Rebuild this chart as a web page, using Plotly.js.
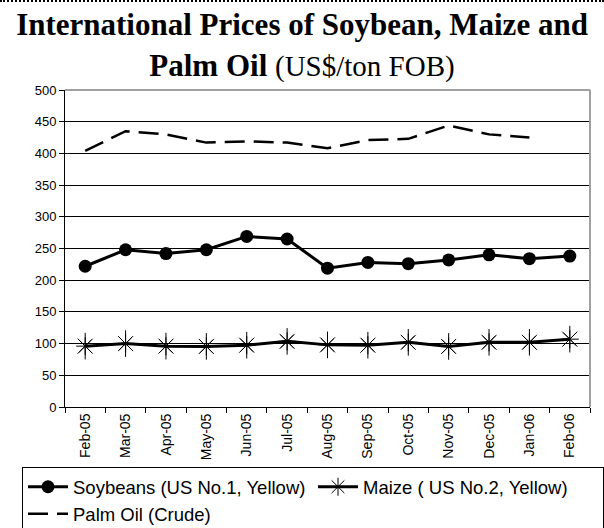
<!DOCTYPE html>
<html>
<head>
<meta charset="utf-8">
<script src="https://cdn.plot.ly/plotly-3.0.1.min.js"></script>
<style>
html,body{margin:0;padding:0;background:#fff;}
#wrap{position:relative;width:604px;height:528px;}
#chart{width:604px;height:528px;}
#topline{position:absolute;left:0;top:0;width:604px;height:0;border-top:2px dotted #000;}
</style>
</head>
<body>
<div id="wrap"><div id="chart"></div><div id="topline"></div></div>
<script>
const months = ["Feb-05","Mar-05","Apr-05","May-05","Jun-05","Jul-05","Aug-05","Sep-05","Oct-05","Nov-05","Dec-05","Jan-06","Feb-06"];
const soybeans = [222, 248, 242, 248, 269, 265, 219, 228, 226, 232, 240, 234, 238];
const maize = [96, 100, 96, 95.5, 97.5, 103.5, 98, 97.5, 102, 95.5, 102, 102, 107];
const palmOil = [404, 435, 430, 417, 419, 417, 408, 421, 423, 444, 430, 425, null];

const traces = [
  {x: months, y: soybeans, name: "Soybeans (US No.1, Yellow)", type: "scatter", mode: "lines+markers",
   line: {color: "#000", width: 3}, marker: {symbol: "circle", size: 13, color: "#000"}},
  {x: months, y: maize, name: "Maize ( US No.2, Yellow)", type: "scatter", mode: "lines+markers",
   line: {color: "#000", width: 3}, marker: {symbol: "asterisk-open", size: 15, color: "#000", line: {width: 1, color: "#000"}}},
  {x: months, y: maize, name: "Maize", type: "scatter", mode: "markers", showlegend: false,
   marker: {symbol: "x-thin-open", size: 15, color: "#000", line: {width: 1, color: "#000"}}},
  {x: months, y: maize, name: "Maize", type: "scatter", mode: "markers", showlegend: false,
   marker: {symbol: "line-ns-open", size: 19, color: "#000", line: {width: 1, color: "#000"}}},
  {x: months, y: palmOil, name: "Palm Oil (Crude)", type: "scatter", mode: "lines",
   line: {color: "#000", width: 2.5, dash: "20px,9px"}, connectgaps: false}
];

const layout = {
  width: 604, height: 528,
  margin: {l: 65, r: 14, t: 90, b: 121, autoexpand: false},
  paper_bgcolor: "#fff", plot_bgcolor: "#fff",
  font: {family: "Arial, Liberation Sans, sans-serif", size: 13, color: "#000"},
  title: {
    text: "<b>International Prices of Soybean, Maize and<br>Palm Oil</b> <span style='font-size:29px'>(US$/ton FOB)</span>",
    font: {family: "Liberation Serif, Times New Roman, serif", size: 31, color: "#000"},
    x: 0.5, xanchor: "center", xref: "container", y: 0.933, yanchor: "top", yref: "container"
  },
  xaxis: {
    type: "category", tickson: "boundaries", ticks: "outside", ticklen: 5, tickcolor: "#000",
    tickangle: -90, showline: true, linecolor: "#000", linewidth: 1, showgrid: false,
    mirror: false, tickfont: {size: 14}, range: [-0.5, 12.5], fixedrange: true, automargin: false
  },
  yaxis: {
    range: [0, 500], dtick: 50, ticks: "outside", ticklen: 5, tickcolor: "#000",
    showline: true, linecolor: "#000", linewidth: 1, showgrid: true, gridcolor: "#000", gridwidth: 1,
    zeroline: false, tickfont: {size: 13}, automargin: false
  },
  shapes: [
    {type: "line", xref: "paper", yref: "paper", x0: 0, x1: 1, y0: 1, y1: 1, line: {color: "#a0a0a0", width: 2}},
    {type: "line", xref: "paper", yref: "paper", x0: 1, x1: 1, y0: 0, y1: 1, line: {color: "#a0a0a0", width: 2}}
  ],
  legend: {
    orientation: "h", xref: "paper", yref: "paper",
    x: -0.0819, xanchor: "left", y: -0.19, yanchor: "top",
    bordercolor: "#000", borderwidth: 1, bgcolor: "#fff",
    font: {size: 18.5, color: "#000"}, entrywidth: 235, traceorder: "normal",
    itemwidth: 40
  },
  showlegend: true
};

Plotly.newPlot("chart", traces, layout, {displayModeBar: false, staticPlot: true});
</script>
</body>
</html>
